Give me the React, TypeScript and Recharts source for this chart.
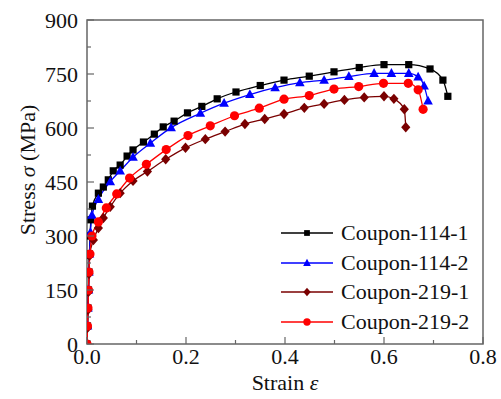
import { LineChart, Line, XAxis, YAxis, Legend, Label, ReferenceArea } from "recharts";

const FONT = '"Liberation Serif", "Times New Roman", serif';
const AXIS = "#666";

// Coupon-114-1 (black squares)
const strain114_1 = [0, 0.001, 0.002, 0.003, 0.004, 0.005, 0.006, 0.008, 0.011, 0.023, 0.033, 0.043, 0.053, 0.067, 0.081, 0.093, 0.114, 0.136, 0.154, 0.176, 0.203, 0.232, 0.263, 0.301, 0.35, 0.398, 0.449, 0.499, 0.55, 0.6, 0.65, 0.693, 0.719, 0.729];
const stress114_1 = [0, 50, 100, 150, 200, 250, 300, 345, 383, 419, 436, 456, 481, 497, 522, 539, 561, 583, 603, 619, 642, 660, 681, 700, 718, 733, 744, 756, 768, 776, 776, 764, 733, 688];

// Coupon-114-2 (blue triangles)
const strain114_2 = [0, 0.001, 0.002, 0.003, 0.004, 0.005, 0.007, 0.01, 0.023, 0.047, 0.067, 0.093, 0.128, 0.17, 0.229, 0.277, 0.329, 0.38, 0.43, 0.479, 0.529, 0.58, 0.615, 0.65, 0.669, 0.681, 0.689];
const stress114_2 = [0, 50, 100, 150, 200, 250, 310, 358, 402, 451, 481, 519, 558, 601, 641, 669, 693, 712, 726, 733, 743, 752, 752, 752, 742, 717, 675];

// Coupon-219-1 (dark red diamonds)
const strain219_1 = [0, 0.001, 0.002, 0.003, 0.004, 0.005, 0.013, 0.023, 0.033, 0.047, 0.067, 0.093, 0.122, 0.159, 0.199, 0.239, 0.279, 0.319, 0.359, 0.398, 0.439, 0.479, 0.52, 0.56, 0.6, 0.62, 0.641, 0.644];
const stress219_1 = [0, 45, 95, 145, 195, 245, 289, 322, 350, 381, 419, 453, 479, 513, 545, 569, 590, 611, 625, 639, 656, 667, 678, 685, 688, 681, 652, 602];

// Coupon-219-2 (red circles)
const strain219_2 = [0, 0.001, 0.002, 0.003, 0.004, 0.006, 0.01, 0.023, 0.039, 0.06, 0.086, 0.12, 0.16, 0.204, 0.249, 0.298, 0.348, 0.398, 0.449, 0.499, 0.549, 0.599, 0.649, 0.669, 0.679];
const stress219_2 = [0, 50, 100, 150, 200, 250, 300, 339, 378, 417, 461, 499, 540, 579, 606, 634, 655, 680, 690, 708, 715, 724, 724, 706, 652];

const xTicks = [0, 0.1, 0.2, 0.3, 0.4, 0.5, 0.6, 0.7, 0.8];
const yTicks = [0, 75, 150, 225, 300, 375, 450, 525, 600, 675, 750, 825, 900];

type Shape = "square" | "triangle" | "diamond" | "circle";

const toPoints = (xs: number[], ys: number[]) => xs.map((x, i) => ({ x, y: ys[i] }));

const series = [
  { name: "Coupon-114-1", color: "#000000", shape: "square" as Shape, data: toPoints(strain114_1, stress114_1) },
  { name: "Coupon-114-2", color: "#0000ff", shape: "triangle" as Shape, data: toPoints(strain114_2, stress114_2) },
  { name: "Coupon-219-1", color: "#7a0000", shape: "diamond" as Shape, data: toPoints(strain219_1, stress219_1) },
  { name: "Coupon-219-2", color: "#ff0000", shape: "circle" as Shape, data: toPoints(strain219_2, stress219_2) },
];

function Marker({ cx, cy, shape, color, s = 1 }: { cx: number; cy: number; shape: Shape; color: string; s?: number }) {
  if (shape === "square") {
    const h = 3.6 * s;
    return <rect x={cx - h} y={cy - h} width={2 * h} height={2 * h} fill={color} />;
  }
  if (shape === "triangle") {
    return (
      <polygon
        points={`${cx},${cy - 5.2 * s} ${cx - 4.8 * s},${cy + 3.6 * s} ${cx + 4.8 * s},${cy + 3.6 * s}`}
        fill={color}
      />
    );
  }
  if (shape === "diamond") {
    return (
      <polygon
        points={`${cx},${cy - 5.2 * s} ${cx + 4.6 * s},${cy} ${cx},${cy + 5.2 * s} ${cx - 4.6 * s},${cy}`}
        fill={color}
      />
    );
  }
  return <circle cx={cx} cy={cy} r={4.6 * s} fill={color} />;
}

function XTick({ x, y, payload }: any) {
  const v = payload.value as number;
  const major = Math.round(v * 10) % 2 === 0;
  return (
    <g>
      <line x1={x} x2={x} y1={y} y2={y - (major ? 7 : 4)} stroke={AXIS} strokeWidth={1.2} />
      {major && (
        <text x={x} y={y + 20} textAnchor="middle" fontSize={22} fontFamily={FONT} fill="#111">
          {v.toFixed(1)}
        </text>
      )}
    </g>
  );
}

function YTick({ x, y, payload }: any) {
  const v = payload.value as number;
  const major = v % 150 === 0;
  return (
    <g>
      <line x1={x} x2={x + (major ? 7 : 4)} y1={y} y2={y} stroke={AXIS} strokeWidth={1.2} />
      {major && (
        <text x={x - 9} y={y + 7.5} textAnchor="end" fontSize={22} fontFamily={FONT} fill="#111">
          {v}
        </text>
      )}
    </g>
  );
}

function XTitle({ viewBox }: any) {
  const cx = viewBox.x + viewBox.width / 2;
  return (
    <text x={cx} y={viewBox.y + 46} textAnchor="middle" fontSize={22} fontFamily={FONT} fill="#111">
      Strain <tspan fontStyle="italic">ε</tspan>
    </text>
  );
}

function YTitle({ viewBox }: any) {
  const cy = viewBox.y + viewBox.height / 2 - 12;
  return (
    <text
      x={35}
      y={cy}
      transform={`rotate(-90 35 ${cy})`}
      textAnchor="middle"
      fontSize={22}
      fontFamily={FONT}
      fill="#111"
    >
      Stress <tspan fontStyle="italic">σ</tspan> (MPa)
    </text>
  );
}

function LegendBox() {
  return (
    <div style={{ fontFamily: FONT, fontSize: 22, color: "#111" }}>
      {series.map((s) => (
        <div key={s.name} style={{ display: "flex", alignItems: "center", height: 29.7 }}>
          <svg width={60} height={29.7}>
            <line x1={3} x2={55} y1={15} y2={15} stroke={s.color} strokeWidth={1.3} />
            <Marker cx={29} cy={15} shape={s.shape} color={s.color} s={0.8} />
          </svg>
          <span style={{ marginLeft: 3, lineHeight: "29.7px" }}>{s.name}</span>
        </div>
      ))}
    </div>
  );
}

export default function App() {
  return (
    <div style={{ position: "absolute", left: 0, top: 0, width: 501, height: 399, background: "#fff" }}>
      <LineChart width={501} height={399} margin={{ top: 20, right: 18, bottom: 0, left: 0 }}>
        <XAxis
          type="number"
          dataKey="x"
          domain={[0, 0.8]}
          ticks={xTicks}
          height={55}
          tickSize={0}
          tickMargin={0}
          tickLine={false}
          axisLine={false}
          tick={<XTick />}
          allowDataOverflow
        >
          <Label content={<XTitle />} />
        </XAxis>
        <YAxis
          type="number"
          dataKey="y"
          domain={[0, 900]}
          ticks={yTicks}
          width={87}
          tickSize={0}
          tickMargin={0}
          tickLine={false}
          axisLine={false}
          tick={<YTick />}
          allowDataOverflow
        >
          <Label content={<YTitle />} />
        </YAxis>
        <ReferenceArea x1={0} x2={0.8} y1={0} y2={900} fill="none" stroke={AXIS} strokeWidth={1.5} />
        {series.map((s) => (
          <Line
            key={s.name}
            data={s.data}
            dataKey="y"
            name={s.name}
            type="monotone"
            stroke={s.color}
            strokeWidth={1.3}
            isAnimationActive={false}
            dot={(p: any) => (
              <Marker key={`${s.name}-${p.index}`} cx={p.cx} cy={p.cy} shape={s.shape} color={s.color} />
            )}
            activeDot={false}
          />
        ))}
        <Legend
          layout="horizontal"
          verticalAlign="middle"
          content={<LegendBox />}
          wrapperStyle={{ left: 278, top: 218, width: 215 }}
        />
      </LineChart>
    </div>
  );
}
